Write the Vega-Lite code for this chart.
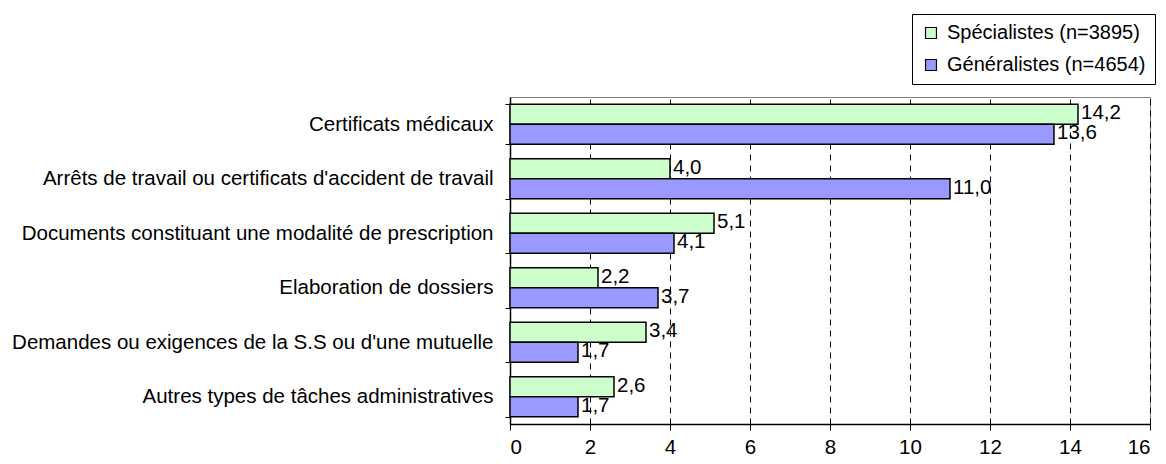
{
  "$schema": "https://vega.github.io/schema/vega-lite/v6.json",
  "autosize": {"type": "none"},
  "padding": {"left": 510, "top": 97, "right": 16, "bottom": 40},
  "width": 640,
  "height": 327,
  "config": {
    "font": "Liberation Sans",
    "locale": {"number": {"decimal": ",", "thousands": " ", "grouping": [3], "currency": ["", " €"]}},
    "view": {"stroke": "#808080", "strokeWidth": 1},
    "axis": {"labelFont": "Liberation Sans", "labelFontSize": 20.5, "labelColor": "#000", "domainColor": "#000", "tickColor": "#000", "title": null}
  },
  "data": {
    "values": [
      {"cat": "Certificats médicaux", "grp": "Spécialistes (n=3895)", "v": 14.2},
      {"cat": "Certificats médicaux", "grp": "Généralistes (n=4654)", "v": 13.6},
      {"cat": "Arrêts de travail ou certificats d'accident de travail", "grp": "Spécialistes (n=3895)", "v": 4.0},
      {"cat": "Arrêts de travail ou certificats d'accident de travail", "grp": "Généralistes (n=4654)", "v": 11.0},
      {"cat": "Documents constituant une modalité de prescription", "grp": "Spécialistes (n=3895)", "v": 5.1},
      {"cat": "Documents constituant une modalité de prescription", "grp": "Généralistes (n=4654)", "v": 4.1},
      {"cat": "Elaboration de dossiers", "grp": "Spécialistes (n=3895)", "v": 2.2},
      {"cat": "Elaboration de dossiers", "grp": "Généralistes (n=4654)", "v": 3.7},
      {"cat": "Demandes ou exigences de la S.S ou d'une mutuelle", "grp": "Spécialistes (n=3895)", "v": 3.4},
      {"cat": "Demandes ou exigences de la S.S ou d'une mutuelle", "grp": "Généralistes (n=4654)", "v": 1.7},
      {"cat": "Autres types de tâches administratives", "grp": "Spécialistes (n=3895)", "v": 2.6},
      {"cat": "Autres types de tâches administratives", "grp": "Généralistes (n=4654)", "v": 1.7}
    ]
  },
  "encoding": {
    "y": {
      "field": "cat", "type": "nominal", "sort": null,
      "scale": {"paddingInner": 0.27, "paddingOuter": 0.135},
      "axis": {"tickBand": "extent", "tickSize": 5, "labelPadding": 12, "domainWidth": 1.5, "labelLimit": 520}
    },
    "yOffset": {"field": "grp", "type": "nominal", "sort": ["Spécialistes (n=3895)", "Généralistes (n=4654)"]},
    "x": {
      "field": "v", "type": "quantitative",
      "scale": {"domain": [0, 16], "nice": false},
      "axis": {"values": [0, 2, 4, 6, 8, 10, 12, 14, 16], "tickSize": 6, "labelPadding": 7, "domainWidth": 1.5, "grid": true, "gridColor": "#000", "gridDash": [6, 5], "gridWidth": 1}
    }
  },
  "layer": [
    {
      "mark": {"type": "bar", "stroke": "#000", "strokeWidth": 1.5},
      "encoding": {
        "color": {
          "field": "grp", "type": "nominal",
          "sort": ["Spécialistes (n=3895)", "Généralistes (n=4654)"],
          "scale": {"domain": ["Spécialistes (n=3895)", "Généralistes (n=4654)"], "range": ["#CCFFCC", "#9999FF"]},
          "legend": {
            "title": null, "orient": "none", "legendX": 402, "legendY": -83,
            "symbolType": "square", "symbolSize": 120, "symbolStrokeColor": "#000", "symbolStrokeWidth": 1.2,
            "labelFontSize": 20, "labelColor": "#000", "labelFont": "Liberation Sans", "labelLimit": 400,
            "strokeColor": "#000", "fillColor": "#fff", "padding": 9, "rowPadding": 12, "symbolOffset": 0, "labelOffset": 6
          }
        }
      }
    },
    {
      "mark": {"type": "text", "align": "left", "baseline": "middle", "dx": 3, "dy": -1, "fontSize": 20.5, "color": "#000"},
      "encoding": {"text": {"field": "v", "type": "quantitative", "format": ".1f"}}
    }
  ]
}
